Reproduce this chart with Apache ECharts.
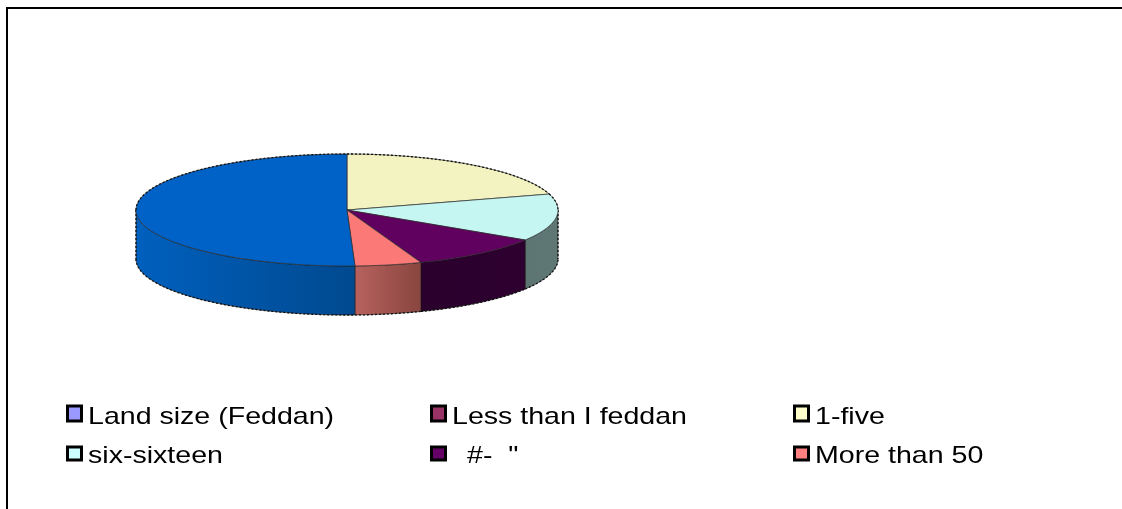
<!DOCTYPE html>
<html>
<head>
<meta charset="utf-8">
<style>
html, body { margin: 0; padding: 0; background: #fff; }
#chart { width: 1122px; height: 509px; }
</style>
<script src="https://cdn.jsdelivr.net/npm/echarts@6/dist/echarts.min.js"></script>
</head>
<body>
<div id="chart"></div>
<script>
// Slices, clockwise from twelve o'clock (percent of the whole pie)
const sliceNames = ['1-five', 'six-sixteen', '#-  "', 'More than 50', 'Total'];
const sliceValues = [20.4, 13.6, 10.3, 5.1, 50.6];
const sliceTopColors = ['#F3F3C2', '#C6F6F2', '#60005F', '#FB7A78', '#0062C6'];
const sliceWallColors = [
  ['#C8C89A', '#C8C89A'],
  ['#5C7472', '#5F7775'],
  ['#2A002C', '#2E0030'],
  ['#B8625E', '#88453F'],
  ['#0060BE', '#00498F']
];

// Legend entries, read across then down
const legendNames = ['Land size (Feddan)', 'Less than I feddan', '1-five', 'six-sixteen', '#-  "', 'More than 50'];
const legendColors = ['#9999FF', '#993366', '#FFFFCC', '#CCFFFF', '#660066', '#FF8080'];
const legendLabelOffsets = [0, 0, 0, 0, 15, 0];

// Projected pie geometry
const pie = { cx: 347, cy: 210, rx: 211, ry: 56, depth: 49 };
const total = sliceValues.reduce((a, b) => a + b, 0);

function sliceAngles(index) {
  let before = 0;
  for (let i = 0; i < index; i++) before += sliceValues[i];
  return [before / total * 360, (before + sliceValues[index]) / total * 360];
}

function rimPoint(deg, dy) {
  const t = deg * Math.PI / 180;
  return [pie.cx + pie.rx * Math.sin(t), pie.cy - pie.ry * Math.cos(t) + (dy || 0)];
}

// Points along the rim between two angles
function rimArc(a, b, dy) {
  const steps = Math.max(2, Math.ceil(Math.abs(b - a) * 2));
  const pts = [];
  for (let i = 0; i <= steps; i++) pts.push(rimPoint(a + (b - a) * i / steps, dy));
  return pts;
}

// Dotted dark edge used along the pie's silhouette
const rimStyle = { fill: null, stroke: '#111', lineWidth: 1.3, lineDash: [2, 2] };

// Flat top face of one slice; only the back half of the rim is a silhouette
function renderTop(params) {
  const [a, b] = sliceAngles(params.dataIndex);
  const children = [{
    type: 'polygon',
    shape: { points: [[pie.cx, pie.cy]].concat(rimArc(a, b)) },
    style: { fill: sliceTopColors[params.dataIndex], stroke: '#2a2a2a', lineWidth: 0.7 }
  }];
  const ranges = [[a, Math.min(b, 90)], [Math.max(a, 270), b]];
  ranges.forEach(([from, to]) => {
    if (to > from) {
      children.push({ type: 'polyline', shape: { points: rimArc(from, to) }, style: rimStyle });
    }
  });
  return { type: 'group', children };
}

// Side wall of one slice, only the part that faces the viewer
function renderWall(params) {
  const [a0, b0] = sliceAngles(params.dataIndex);
  const a = Math.max(a0, 90);
  const b = Math.min(b0, 270);
  if (b <= a) return null;
  const pts = rimArc(a, b).concat(rimArc(b, a, pie.depth));
  const stops = sliceWallColors[params.dataIndex];
  const children = [
    {
      type: 'polygon',
      shape: { points: pts },
      style: {
        // the wall shades from left to right across the slice
        fill: new echarts.graphic.LinearGradient(0, 0, 1, 0, [
          { offset: 0, color: stops[0] },
          { offset: 1, color: stops[1] }
        ]),
        stroke: '#1a1a1a',
        lineWidth: 0.6
      }
    },
    { type: 'polyline', shape: { points: rimArc(b, a, pie.depth) }, style: rimStyle }
  ];
  if (a === 90) children.push({ type: 'polyline', shape: { points: [rimPoint(90), rimPoint(90, pie.depth)] }, style: rimStyle });
  if (b === 270) children.push({ type: 'polyline', shape: { points: [rimPoint(270), rimPoint(270, pie.depth)] }, style: rimStyle });
  return { type: 'group', children };
}

const legendCols = [66, 430, 793];
const legendRows = [406, 447];
const labelMiddles = [417, 456];

function renderLegend(params) {
  const i = params.dataIndex;
  const col = i % 3;
  const row = Math.floor(i / 3);
  return {
    type: 'group',
    children: [
      {
        type: 'rect',
        shape: { x: legendCols[col] + 1.5, y: legendRows[row], width: 14, height: row ? 13 : 15 },
        style: { fill: legendColors[i], stroke: '#000', lineWidth: 3 }
      },
      {
        type: 'text',
        x: legendCols[col] + 22 + legendLabelOffsets[i],
        y: labelMiddles[row],
        scaleX: 1.19,
        style: {
          text: legendNames[i],
          fontFamily: '"Liberation Sans", Arial, sans-serif',
          fontSize: 24,
          fill: '#000',
          verticalAlign: 'middle'
        }
      }
    ]
  };
}

const chart = echarts.init(document.getElementById('chart'), null, { renderer: 'canvas' });
chart.setOption({
  animation: false,
  backgroundColor: '#fff',
  graphic: [
    { type: 'line', shape: { x1: 7, y1: 8, x2: 1122, y2: 8 }, style: { stroke: '#000', lineWidth: 2 } },
    { type: 'line', shape: { x1: 7, y1: 7, x2: 7, y2: 509 }, style: { stroke: '#000', lineWidth: 2 } }
  ],
  series: [
    {
      type: 'custom',
      coordinateSystem: 'none',
      name: 'walls',
      z: 1,
      renderItem: renderWall,
      data: sliceNames.map((n, i) => ({ name: n, value: sliceValues[i] }))
    },
    {
      type: 'custom',
      coordinateSystem: 'none',
      name: 'tops',
      z: 2,
      renderItem: renderTop,
      data: sliceNames.map((n, i) => ({ name: n, value: sliceValues[i] }))
    },
    {
      type: 'custom',
      coordinateSystem: 'none',
      name: 'legend',
      z: 3,
      renderItem: renderLegend,
      data: legendNames
    }
  ]
});
</script>
</body>
</html>
